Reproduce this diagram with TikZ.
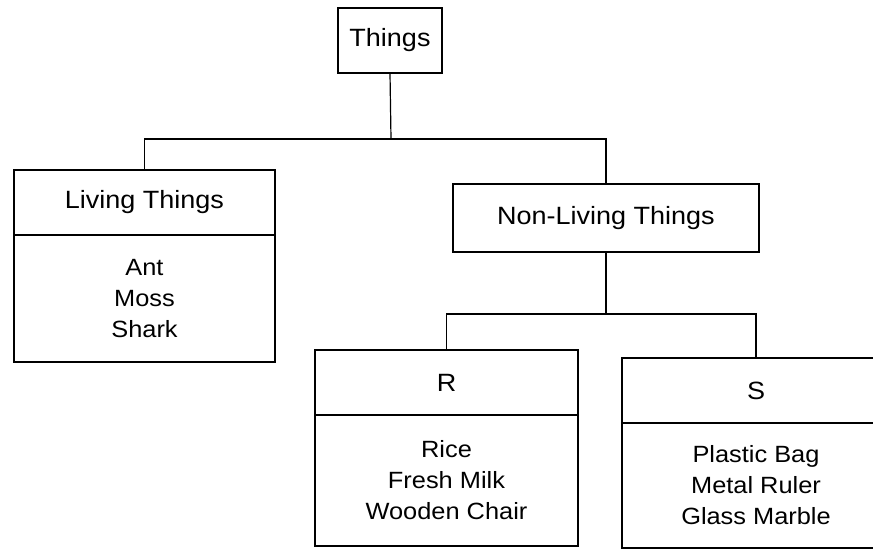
\documentclass[tikz,border=0pt]{standalone}
\usepackage{fontspec}
\setmainfont{Liberation Sans}[FakeStretch=1.08]
\begin{document}
\begin{tikzpicture}[x=1pt,y=-1pt,
  box/.style={draw,line width=1.2pt,inner sep=0pt,outer sep=0pt,align=center},
  head/.style={box,font=\fontsize{25}{30}\selectfont},
  body/.style={box,font=\fontsize{23.5}{31}\selectfont},
  conn/.style={line width=1.2pt}]
\clip (0,0) rectangle (873,558);
\fill[white] (0,0) rectangle (873,558);
% Things
\node[head,minimum width=104pt,minimum height=65pt] (things) at (390,40.5) {Things};
% Living
\node[head,minimum width=261pt,minimum height=65pt] (lh) at (144.5,202.5) {Living Things};
\node[body,minimum width=261pt,minimum height=127pt] (lb) at (144.5,298.5) {Ant\\Moss\\Shark};
% Non-living
\node[head,minimum width=306pt,minimum height=68pt] (nl) at (606,218) {Non-Living Things};
% R
\node[head,minimum width=263pt,minimum height=65pt] (rh) at (446.5,382.5) {R};
\node[body,minimum width=263pt,minimum height=131pt] (rb) at (446.5,480.5) {Rice\\Fresh Milk\\Wooden Chair};
% S
\node[head,minimum width=268pt,minimum height=65pt] (sh) at (756,390.5) {S};
\node[body,minimum width=268pt,minimum height=125pt] (sb) at (756,485.5) {Plastic Bag\\Metal Ruler\\Glass Marble};
% connectors
\coordinate (j1) at (391,139);
\coordinate (j2) at (606,314);
\draw[conn] (things.south) -- (j1);
\draw[conn] (lh.north) |- (j1) -| (nl.north);
\draw[conn] (nl.south) -- (j2);
\draw[conn] (rh.north) |- (j2) -| (sh.north);
\end{tikzpicture}
\end{document}
